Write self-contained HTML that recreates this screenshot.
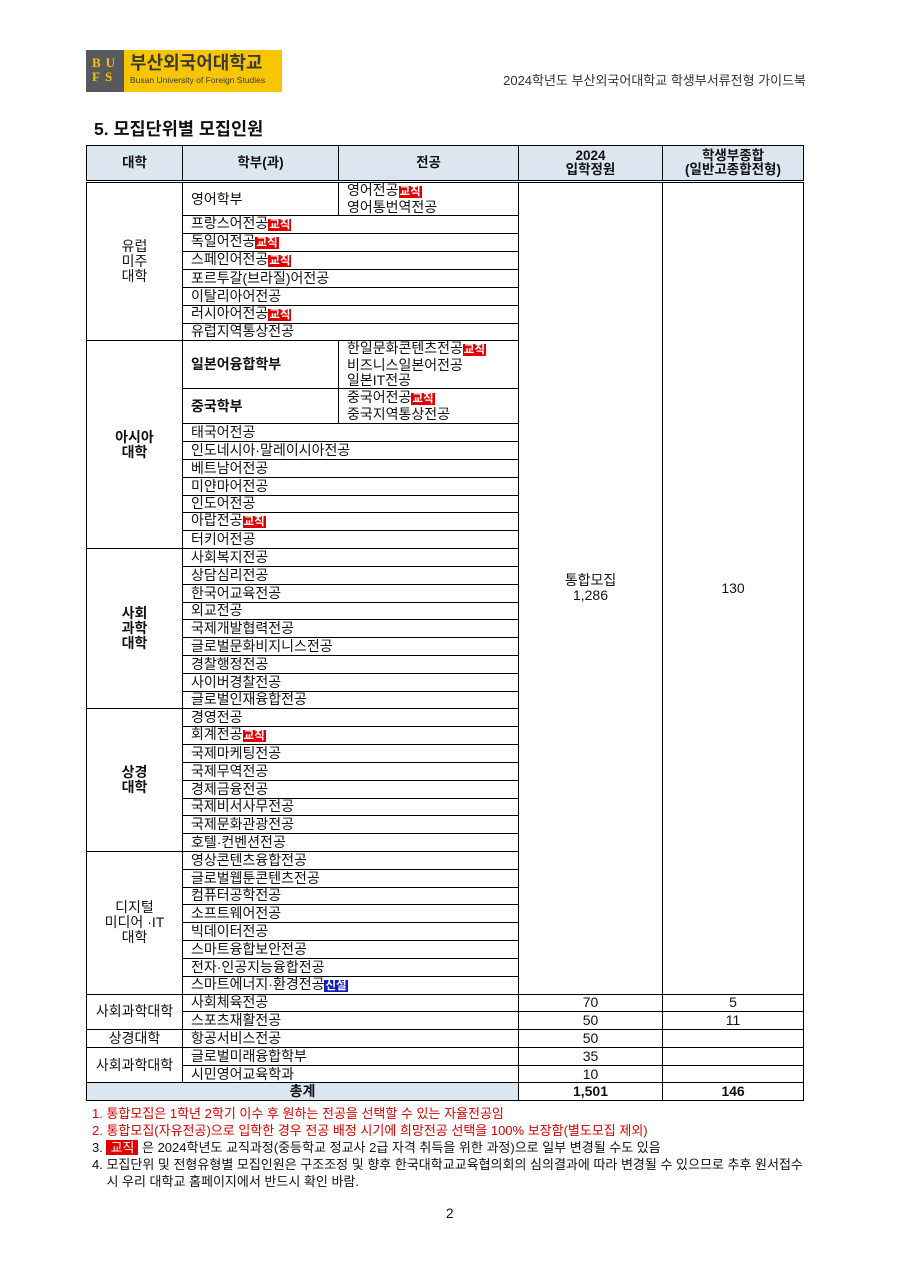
<!DOCTYPE html>
<html><head><meta charset="utf-8">
<style>
*{margin:0;padding:0;box-sizing:border-box}
body{width:900px;height:1272px;background:#fff;position:relative;font-family:"Liberation Sans","Noto Sans CJK KR",sans-serif;color:#111;overflow:hidden}
.logo{position:absolute;left:86px;top:50px;width:196px;height:42px;display:flex}
.logo .g{width:38px;background:#58595b;color:#f5c400;font-family:"Liberation Serif",serif;font-weight:bold;font-size:13px;line-height:14px;padding:6px 0 0 6px;letter-spacing:5px}
.logo .y{flex:1;background:#f7c600;padding:2px 0 0 6px}
.logo .k{font-size:18px;font-weight:bold;color:#3a3a3a;line-height:22px}
.logo .e{font-size:8.5px;color:#3a3a3a;line-height:12px}
.hdr{position:absolute;right:94px;top:70px;font-size:13px;color:#333}
.title{position:absolute;left:94px;top:116px;font-size:17.5px;font-weight:bold}
table{position:absolute;left:86px;top:145px;width:717px;border-collapse:collapse;table-layout:fixed;font-size:14px}
td,th{border:1px solid #000;padding:0 0 0 8px;line-height:15px;vertical-align:middle;white-space:nowrap;overflow:hidden}
th{background:#dce6f1;font-weight:bold;text-align:center;padding:0;height:35px;line-height:14px;border-bottom:3px double #000;font-size:13.5px}
tr{height:17.8px}
.c{text-align:center;padding:0}
.b{font-weight:bold}
.bad{background:#e00000;color:#fff;font-weight:bold;font-size:11.5px;padding:0 1px}
.new{background:#1020c0;color:#fff;font-weight:bold;font-size:11.5px;padding:0 1px}
.tot td{background:#dce6f1;font-weight:bold}
.tot td.w{background:#fff}
.notes{position:absolute;left:92px;top:1105px;font-size:13px;line-height:17px}
.red{color:#d80000}
.pg{position:absolute;left:446px;top:1206px;font-size:13.5px}
</style></head><body>
<div class="logo"><div class="g">BU<br>FS</div><div class="y"><div class="k">부산외국어대학교</div><div class="e">Busan University of Foreign Studies</div></div></div>
<div class="hdr">2024학년도 부산외국어대학교 학생부서류전형 가이드북</div>
<div class="title">5. 모집단위별 모집인원</div>
<table>
<colgroup><col style="width:96px"><col style="width:156px"><col style="width:180px"><col style="width:144px"><col style="width:141px"></colgroup>
<tr style="height:36px"><th>대학</th><th>학부(과)</th><th>전공</th><th>2024<br>입학정원</th><th>학생부종합<br>(일반고종합전형)</th></tr>
<tr style="height:32px"><td class="c" rowspan="8">유럽<br>미주<br>대학</td><td>영어학부</td><td>영어전공<span class="bad">교직</span><br>영어통번역전공</td><td class="c" rowspan="42">통합모집<br>1,286</td><td class="c" rowspan="42">130</td></tr>
<tr><td colspan="2">프랑스어전공<span class="bad">교직</span></td></tr>
<tr><td colspan="2">독일어전공<span class="bad">교직</span></td></tr>
<tr><td colspan="2">스페인어전공<span class="bad">교직</span></td></tr>
<tr><td colspan="2">포르투갈(브라질)어전공</td></tr>
<tr><td colspan="2">이탈리아어전공</td></tr>
<tr><td colspan="2">러시아어전공<span class="bad">교직</span></td></tr>
<tr><td colspan="2">유럽지역통상전공</td></tr>
<tr style="height:48px"><td class="c b" rowspan="9">아시아<br>대학</td><td class="b">일본어융합학부</td><td>한일문화콘텐츠전공<span class="bad">교직</span><br>비즈니스일본어전공<br>일본IT전공</td></tr>
<tr style="height:35px"><td class="b">중국학부</td><td>중국어전공<span class="bad">교직</span><br>중국지역통상전공</td></tr>
<tr><td colspan="2">태국어전공</td></tr>
<tr><td colspan="2">인도네시아·말레이시아전공</td></tr>
<tr><td colspan="2">베트남어전공</td></tr>
<tr><td colspan="2">미얀마어전공</td></tr>
<tr><td colspan="2">인도어전공</td></tr>
<tr><td colspan="2">아랍전공<span class="bad">교직</span></td></tr>
<tr><td colspan="2">터키어전공</td></tr>
<tr><td class="c b" rowspan="9">사회<br>과학<br>대학</td><td colspan="2">사회복지전공</td></tr>
<tr><td colspan="2">상담심리전공</td></tr>
<tr><td colspan="2">한국어교육전공</td></tr>
<tr><td colspan="2">외교전공</td></tr>
<tr><td colspan="2">국제개발협력전공</td></tr>
<tr><td colspan="2">글로벌문화비지니스전공</td></tr>
<tr><td colspan="2">경찰행정전공</td></tr>
<tr><td colspan="2">사이버경찰전공</td></tr>
<tr><td colspan="2">글로벌인재융합전공</td></tr>
<tr><td class="c b" rowspan="8">상경<br>대학</td><td colspan="2">경영전공</td></tr>
<tr><td colspan="2">회계전공<span class="bad">교직</span></td></tr>
<tr><td colspan="2">국제마케팅전공</td></tr>
<tr><td colspan="2">국제무역전공</td></tr>
<tr><td colspan="2">경제금융전공</td></tr>
<tr><td colspan="2">국제비서사무전공</td></tr>
<tr><td colspan="2">국제문화관광전공</td></tr>
<tr><td colspan="2">호텔·컨벤션전공</td></tr>
<tr><td class="c" rowspan="8">디지털<br>미디어 ·IT<br>대학</td><td colspan="2">영상콘텐츠융합전공</td></tr>
<tr><td colspan="2">글로벌웹툰콘텐츠전공</td></tr>
<tr><td colspan="2">컴퓨터공학전공</td></tr>
<tr><td colspan="2">소프트웨어전공</td></tr>
<tr><td colspan="2">빅데이터전공</td></tr>
<tr><td colspan="2">스마트융합보안전공</td></tr>
<tr><td colspan="2">전자·인공지능융합전공</td></tr>
<tr><td colspan="2">스마트에너지·환경전공<span class="new">신설</span></td></tr>
<tr><td class="c" rowspan="2">사회과학대학</td><td colspan="2">사회체육전공</td><td class="c">70</td><td class="c">5</td></tr>
<tr><td colspan="2">스포츠재활전공</td><td class="c">50</td><td class="c">11</td></tr>
<tr><td class="c">상경대학</td><td colspan="2">항공서비스전공</td><td class="c">50</td><td class="c"></td></tr>
<tr><td class="c" rowspan="2">사회과학대학</td><td colspan="2">글로벌미래융합학부</td><td class="c">35</td><td class="c"></td></tr>
<tr><td colspan="2">시민영어교육학과</td><td class="c">10</td><td class="c"></td></tr>
<tr class="tot"><td class="c" colspan="3">총계</td><td class="c w">1,501</td><td class="c w">146</td></tr>
</table>
<div class="notes">
<div class="red">1. 통합모집은 1학년 2학기 이수 후 원하는 전공을 선택할 수 있는 자율전공임</div>
<div class="red">2. 통합모집(자유전공)으로 입학한 경우 전공 배정 시기에 희망전공 선택을 100% 보장함(별도모집 제외)</div>
<div>3. <span style="background:#e00000;color:#fff;padding:0 4px">교직</span> 은 2024학년도 교직과정(중등학교 정교사 2급 자격 취득을 위한 과정)으로 일부 변경될 수도 있음</div>
<div>4. 모집단위 및 전형유형별 모집인원은 구조조정 및 향후 한국대학교교육협의회의 심의결과에 따라 변경될 수 있으므로 추후 원서접수</div>
<div>&nbsp;&nbsp;&nbsp;&nbsp;시 우리 대학교 홈페이지에서 반드시 확인 바람.</div>
</div>
<div class="pg">2</div>
</body></html>
